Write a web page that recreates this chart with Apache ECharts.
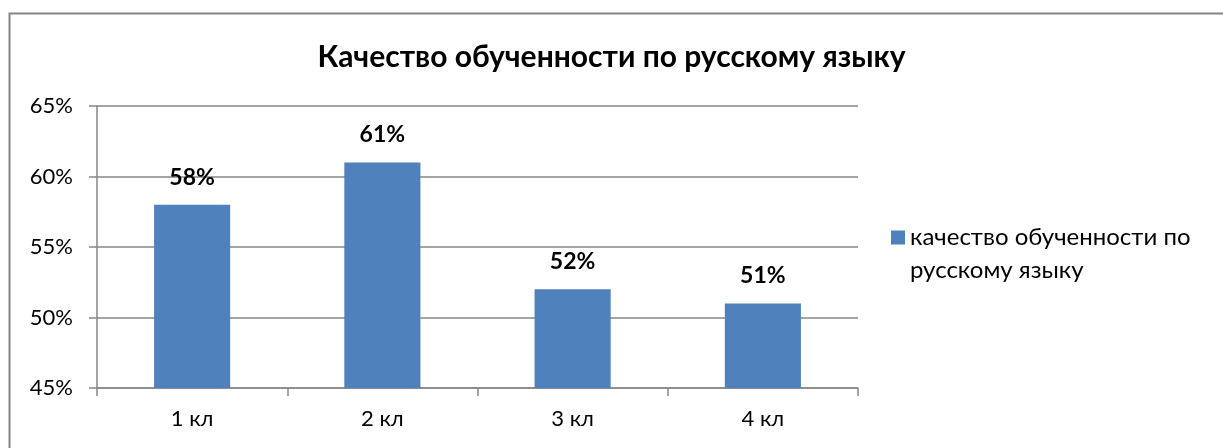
<!DOCTYPE html>
<html>
<head>
<meta charset="utf-8">
<script src="https://cdn.jsdelivr.net/npm/echarts@6/dist/echarts.min.js"></script>
<style>
 html, body { margin: 0; padding: 0; background: #fff; }
 #chart { width: 1223px; height: 448px; }
</style>
</head>
<body>
<div id="chart"></div>
<script>
// data
const categories = ['1 кл', '2 кл', '3 кл', '4 кл']
const quality = [58, 61, 52, 51]
const seriesName = 'качество обученности по русскому языку'
const titleText = 'Качество обученности по русскому языку'

const font = 'Lato, "Open Sans", sans-serif'

const chart = echarts.init(document.getElementById('chart'))
chart.setOption({
 animation: false,
 title: {
  text: titleText,
  left: 'center',
  top: 37,
  textStyle: { fontFamily: font, fontSize: 30, fontWeight: 'bold', color: '#000' }
 },
 graphic: [{
  type: 'rect',
  shape: { x: 9.5, y: 13.5, width: 1400, height: 600 },
  style: { fill: 'none', stroke: '#868686', lineWidth: 2 }
 }],
 legend: {
  left: 886,
  top: 183,
  orient: 'vertical',
  icon: 'rect',
  itemWidth: 14,
  itemHeight: 14,
  data: [seriesName],
  // blank first line keeps the icon level with the first text line
  formatter: () => '\nкачество обученности по\nрусскому языку',
  textStyle: { fontFamily: font, fontSize: 24, color: '#000', lineHeight: 33 }
 },
 grid: { left: 97, right: 365, top: 106, bottom: 60 },
 xAxis: {
  type: 'category',
  data: categories,
  axisLine: { lineStyle: { color: '#868686', width: 1.5 } },
  axisTick: { show: true, length: 8, lineStyle: { color: '#868686', width: 1.5 } },
  axisLabel: { fontFamily: font, fontSize: 22, color: '#000', margin: 20 }
 },
 yAxis: {
  type: 'value',
  min: 45,
  max: 65,
  interval: 5,
  axisLine: { show: true, lineStyle: { color: '#868686', width: 1.5 } },
  axisTick: { show: true, length: 8, lineStyle: { color: '#868686', width: 1.5 } },
  splitLine: { lineStyle: { color: '#868686', width: 1.5 } },
  axisLabel: { fontFamily: font, fontSize: 22, color: '#000', margin: 24, formatter: '{value}%' }
 },
 series: [{
  name: seriesName,
  type: 'bar',
  data: quality,
  barWidth: '40%',
  itemStyle: { color: '#4f81bd' },
  label: {
   show: true,
   position: 'top',
   distance: 16,
   formatter: '{c}%',
   fontFamily: font, fontSize: 23, fontWeight: 'bold', color: '#000'
  }
 }]
})
</script>
</body>
</html>
